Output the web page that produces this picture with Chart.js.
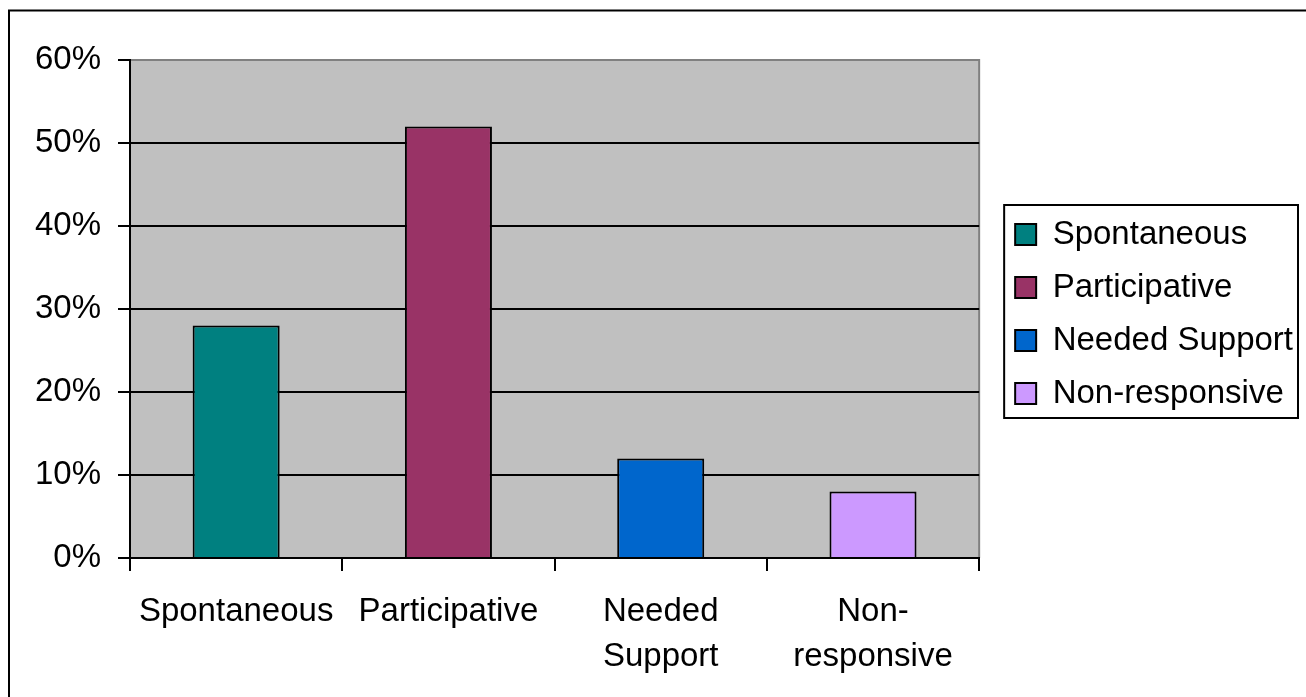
<!DOCTYPE html>
<html>
<head>
<meta charset="utf-8">
<script src="https://cdn.jsdelivr.net/npm/chart.js@4.4.1/dist/chart.umd.min.js"></script>
<style>
  html, body { margin: 0; padding: 0; background: #fff; }
  canvas { display: block; }
</style>
</head>
<body>
<canvas id="responseChart" width="1306" height="697"></canvas>
<script>
const categories = ['Spontaneous', 'Participative', 'Needed Support', 'Non-responsive'];
const tickLabels = [['Spontaneous'], ['Participative'], ['Needed', 'Support'], ['Non-', 'responsive']];
const percentages = [28, 52, 12, 8];
const barColors = ['#008080', '#993366', '#0066CC', '#CC99FF'];
const yTicks = [0, 10, 20, 30, 40, 50, 60];

const yMax = yTicks[yTicks.length - 1];

Chart.defaults.font.family = "'Liberation Sans', Arial, sans-serif";
Chart.defaults.font.size = 33;
Chart.defaults.color = '#000';

// gray plot area, outer frame, legend border
const chartFrame = {
    id: 'chartFrame',
    afterLayout(chart) {
        const lg = chart.legend;
        lg.left += 16;
        lg.right += 16;
        lg.top += 5;
        lg.bottom += 5;
    },
    beforeDraw(chart) {
        const { ctx, chartArea: a } = chart;
        ctx.save();
        ctx.fillStyle = '#fff';
        ctx.fillRect(0, 0, chart.width, chart.height);
        ctx.strokeStyle = '#000';
        ctx.lineWidth = 2;
        ctx.beginPath();
        ctx.moveTo(9, chart.height);
        ctx.lineTo(9, 10.5);
        ctx.lineTo(chart.width, 10.5);
        ctx.stroke();
        ctx.fillStyle = '#C0C0C0';
        ctx.fillRect(a.left, a.top, a.right - a.left, a.bottom - a.top);
        ctx.strokeStyle = '#808080';
        ctx.beginPath();
        ctx.moveTo(a.left, a.top);
        ctx.lineTo(a.right, a.top);
        ctx.lineTo(a.right, a.bottom);
        ctx.stroke();
        ctx.restore();
    },
    afterDraw(chart) {
        const hb = chart.legend.legendHitBoxes;
        if (!hb || !hb.length) return;
        const first = hb[0];
        const last = hb[hb.length - 1];
        const w = Math.max(...hb.map((h) => h.width));
        const ctx = chart.ctx;
        ctx.save();
        ctx.strokeStyle = '#000';
        ctx.lineWidth = 2;
        const top = first.top - 13;
        ctx.strokeRect(first.left - 11, top, w + 16, last.top + last.height + 8 - top);
        ctx.restore();
    },
};

const ctx = document.getElementById('responseChart').getContext('2d');

const config = {
    type: 'bar',
    data: {
        labels: categories,
        datasets: [
            {
                label: 'Responses',
                data: percentages,
                backgroundColor: barColors,
                borderColor: '#000',
                borderWidth: 2,
                barPercentage: 0.41,
                categoryPercentage: 1,
            },
        ],
    },
    options: {
        responsive: false,
        animation: false,
        layout: {
            padding: { top: 60, right: 19, bottom: 0, left: 0 },
        },
        scales: {
            x: {
                grid: {
                    drawOnChartArea: false,
                    tickLength: 13,
                    tickColor: '#000',
                    color: '#000',
                    lineWidth: 2,
                },
                border: { color: '#000', width: 2 },
                ticks: {
                    padding: 18,
                    maxRotation: 0,
                    autoSkip: false,
                    font: { size: 33, lineHeight: 1.37 },
                    callback: (v, i) => tickLabels[i],
                },
                afterFit: (s) => {
                    s.height = 139;
                },
            },
            y: {
                min: yTicks[0],
                max: yMax,
                grid: {
                    color: (c) => (c.tick && c.tick.value === yMax ? '#808080' : '#000'),
                    lineWidth: 2,
                    tickLength: 12,
                    tickColor: '#000',
                },
                border: { color: '#000', width: 2 },
                ticks: {
                    stepSize: yTicks[1] - yTicks[0],
                    padding: 17,
                    callback: (v) => v + '%',
                },
                afterFit: (s) => {
                    s.width = 130;
                },
            },
        },
        plugins: {
            tooltip: { enabled: false },
            legend: {
                position: 'right',
                fullSize: false,
                labels: {
                    boxWidth: 21,
                    boxHeight: 21,
                    padding: 20,
                    font: { size: 33 },
                    generateLabels: () =>
                        categories.map((c, i) => ({
                            text: c,
                            fillStyle: barColors[i],
                            strokeStyle: '#000',
                            lineWidth: 2,
                            hidden: false,
                            index: i,
                            datasetIndex: 0,
                        })),
                },
            },
        },
    },
    plugins: [chartFrame],
};

const responseChart = new Chart(ctx, config);
</script>
</body>
</html>
